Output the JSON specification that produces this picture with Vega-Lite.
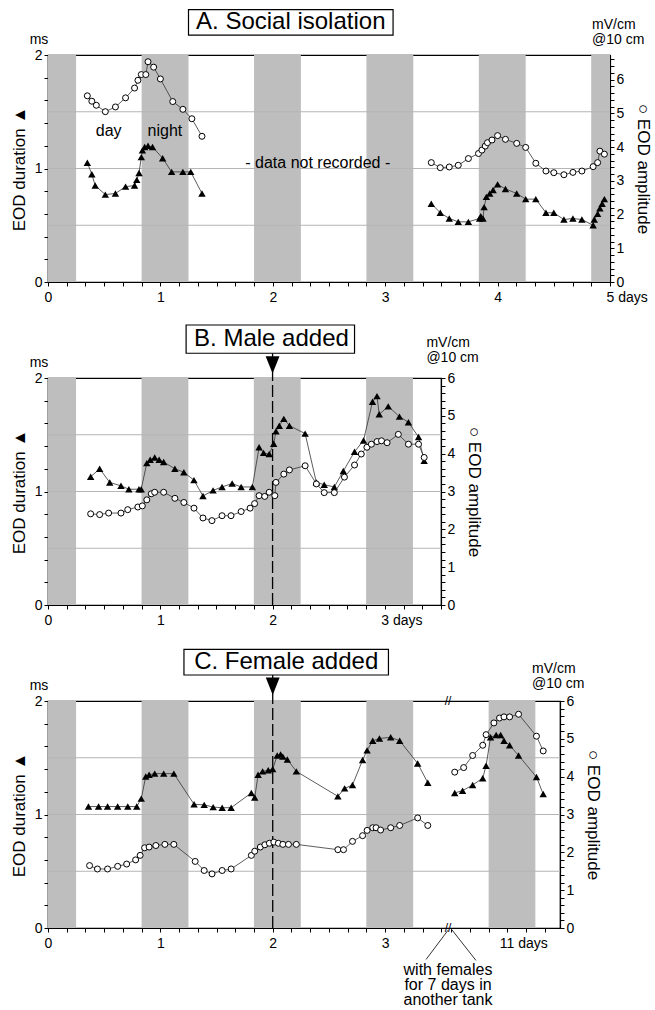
{
  "$schema": "https://vega.github.io/schema/vega-lite/v6.json",
  "padding": {"left": 9, "top": 8, "right": 0, "bottom": 0},
  "autosize": {"type": "pad"},
  "spacing": 96,
  "bounds": "flush",
  "config": {
    "font": "Liberation Sans",
    "view": {"stroke": "black", "strokeWidth": 1.2},
    "axis": {"labelFont": "Liberation Sans", "labelFontSize": 14, "labelColor": "black", "domainColor": "black", "domainWidth": 1.2, "tickColor": "black", "tickSize": 4, "tickWidth": 1, "grid": false, "labelPadding": 2, "titleFont": "Liberation Sans", "titleFontSize": 17, "titleFontWeight": "normal", "titleColor": "black", "labelFlush": false, "labelOverlap": false, "tickCount": 200},
    "axisX": {"labelPadding": 4},
    "text": {"font": "Liberation Sans", "color": "black"}
  },
  "datasets": {
    "one": [{}],
    "nightA": [{"start":0,"end":0.25},{"start":0.833,"end":1.25},{"start":1.833,"end":2.25},{"start":2.833,"end":3.25},{"start":3.833,"end":4.25},{"start":4.833,"end":5}],
    "nightB": [{"start":0,"end":0.25},{"start":0.833,"end":1.25},{"start":1.833,"end":2.25},{"start":2.833,"end":3.25}],
    "nightC": [{"start":0,"end":0.25},{"start":0.833,"end":1.25},{"start":1.833,"end":2.25},{"start":2.833,"end":3.25},{"start":10.833,"end":11.25}],
    "grid": [{"ms":0.5},{"ms":1},{"ms":1.5}],
    "durA": [
      {"seg":1,"day":0.35,"ms":1.05},{"seg":1,"day":0.39,"ms":0.95},{"seg":1,"day":0.42,"ms":0.85},{"seg":1,"day":0.51,"ms":0.77},{"seg":1,"day":0.60,"ms":0.78},{"seg":1,"day":0.69,"ms":0.84},{"seg":1,"day":0.77,"ms":0.85},{"seg":1,"day":0.79,"ms":0.90},{"seg":1,"day":0.81,"ms":0.96},{"seg":1,"day":0.83,"ms":1.10},{"seg":1,"day":0.84,"ms":1.16},{"seg":1,"day":0.86,"ms":1.19},{"seg":1,"day":0.89,"ms":1.20},{"seg":1,"day":0.93,"ms":1.19},{"seg":1,"day":1.02,"ms":1.09},{"seg":1,"day":1.10,"ms":0.97},{"seg":1,"day":1.20,"ms":0.97},{"seg":1,"day":1.27,"ms":0.97},{"seg":1,"day":1.37,"ms":0.78},
      {"seg":2,"day":3.41,"ms":0.69},{"seg":2,"day":3.49,"ms":0.61},{"seg":2,"day":3.57,"ms":0.56},{"seg":2,"day":3.65,"ms":0.53},{"seg":2,"day":3.74,"ms":0.53},{"seg":2,"day":3.84,"ms":0.56},{"seg":2,"day":3.85,"ms":0.58},{"seg":2,"day":3.87,"ms":0.56},{"seg":2,"day":3.88,"ms":0.66},{"seg":2,"day":3.90,"ms":0.75},{"seg":2,"day":3.93,"ms":0.78},{"seg":2,"day":3.96,"ms":0.81},{"seg":2,"day":4.00,"ms":0.86},{"seg":2,"day":4.07,"ms":0.82},{"seg":2,"day":4.17,"ms":0.78},{"seg":2,"day":4.25,"ms":0.73},{"seg":2,"day":4.34,"ms":0.73},{"seg":2,"day":4.43,"ms":0.61},{"seg":2,"day":4.50,"ms":0.61},{"seg":2,"day":4.59,"ms":0.55},{"seg":2,"day":4.67,"ms":0.56},{"seg":2,"day":4.75,"ms":0.55},{"seg":2,"day":4.85,"ms":0.50},{"seg":2,"day":4.86,"ms":0.55},{"seg":2,"day":4.89,"ms":0.60},{"seg":2,"day":4.91,"ms":0.65},{"seg":2,"day":4.93,"ms":0.69},{"seg":2,"day":4.95,"ms":0.73}
    ],
    "ampA": [
      {"seg":1,"day":0.35,"mV":5.52},{"seg":1,"day":0.39,"mV":5.36},{"seg":1,"day":0.43,"mV":5.24},{"seg":1,"day":0.51,"mV":5.05},{"seg":1,"day":0.60,"mV":5.19},{"seg":1,"day":0.69,"mV":5.46},{"seg":1,"day":0.77,"mV":5.75},{"seg":1,"day":0.80,"mV":5.98},{"seg":1,"day":0.83,"mV":6.15},{"seg":1,"day":0.87,"mV":6.15},{"seg":1,"day":0.89,"mV":6.53},{"seg":1,"day":0.94,"mV":6.37},{"seg":1,"day":1.00,"mV":6.02},{"seg":1,"day":1.11,"mV":5.35},{"seg":1,"day":1.20,"mV":5.12},{"seg":1,"day":1.28,"mV":4.84},{"seg":1,"day":1.37,"mV":4.32},
      {"seg":2,"day":3.41,"mV":3.54},{"seg":2,"day":3.49,"mV":3.39},{"seg":2,"day":3.57,"mV":3.41},{"seg":2,"day":3.65,"mV":3.46},{"seg":2,"day":3.74,"mV":3.66},{"seg":2,"day":3.83,"mV":3.81},{"seg":2,"day":3.86,"mV":3.91},{"seg":2,"day":3.89,"mV":4.03},{"seg":2,"day":3.91,"mV":4.13},{"seg":2,"day":3.95,"mV":4.21},{"seg":2,"day":4.00,"mV":4.34},{"seg":2,"day":4.07,"mV":4.23},{"seg":2,"day":4.17,"mV":4.11},{"seg":2,"day":4.25,"mV":3.99},{"seg":2,"day":4.34,"mV":3.52},{"seg":2,"day":4.43,"mV":3.29},{"seg":2,"day":4.50,"mV":3.24},{"seg":2,"day":4.59,"mV":3.18},{"seg":2,"day":4.67,"mV":3.25},{"seg":2,"day":4.75,"mV":3.29},{"seg":2,"day":4.85,"mV":3.42},{"seg":2,"day":4.89,"mV":3.54},{"seg":2,"day":4.91,"mV":3.88},{"seg":2,"day":4.95,"mV":3.79}
    ],
    "durB": [
      {"day":0.38,"ms":1.13},{"day":0.46,"ms":1.20},{"day":0.55,"ms":1.08},{"day":0.65,"ms":1.05},{"day":0.72,"ms":1.02},{"day":0.81,"ms":1.02},{"day":0.83,"ms":1.02},{"day":0.88,"ms":1.25},{"day":0.91,"ms":1.28},{"day":0.95,"ms":1.30},{"day":0.99,"ms":1.28},{"day":1.03,"ms":1.26},{"day":1.13,"ms":1.20},{"day":1.21,"ms":1.17},{"day":1.30,"ms":1.10},{"day":1.38,"ms":0.96},{"day":1.47,"ms":1.01},{"day":1.55,"ms":1.04},{"day":1.64,"ms":1.07},{"day":1.72,"ms":1.04},{"day":1.82,"ms":1.04},{"day":1.88,"ms":1.39},{"day":1.92,"ms":1.34},{"day":1.97,"ms":1.33},{"day":2.01,"ms":1.42},{"day":2.03,"ms":1.53},{"day":2.06,"ms":1.58},{"day":2.10,"ms":1.64},{"day":2.15,"ms":1.58},{"day":2.29,"ms":1.51},{"day":2.39,"ms":1.08},{"day":2.46,"ms":1.06},{"day":2.55,"ms":1.04},{"day":2.63,"ms":1.18},{"day":2.73,"ms":1.35},{"day":2.81,"ms":1.45},{"day":2.89,"ms":1.79},{"day":2.93,"ms":1.84},{"day":2.95,"ms":1.68},{"day":3.03,"ms":1.75},{"day":3.13,"ms":1.66},{"day":3.21,"ms":1.61},{"day":3.30,"ms":1.48},{"day":3.35,"ms":1.27}
    ],
    "ampB": [
      {"day":0.38,"mV":2.41},{"day":0.46,"mV":2.39},{"day":0.54,"mV":2.43},{"day":0.65,"mV":2.43},{"day":0.71,"mV":2.52},{"day":0.80,"mV":2.59},{"day":0.84,"mV":2.62},{"day":0.88,"mV":2.78},{"day":0.92,"mV":2.94},{"day":0.95,"mV":2.98},{"day":1.03,"mV":2.98},{"day":1.13,"mV":2.82},{"day":1.21,"mV":2.71},{"day":1.30,"mV":2.56},{"day":1.38,"mV":2.30},{"day":1.46,"mV":2.23},{"day":1.55,"mV":2.36},{"day":1.63,"mV":2.36},{"day":1.72,"mV":2.47},{"day":1.80,"mV":2.56},{"day":1.84,"mV":2.68},{"day":1.88,"mV":2.89},{"day":1.93,"mV":2.87},{"day":1.97,"mV":2.98},{"day":2.02,"mV":2.89},{"day":2.03,"mV":3.24},{"day":2.10,"mV":3.46},{"day":2.15,"mV":3.57},{"day":2.29,"mV":3.68},{"day":2.39,"mV":3.20},{"day":2.46,"mV":2.97},{"day":2.55,"mV":2.97},{"day":2.64,"mV":3.38},{"day":2.73,"mV":3.70},{"day":2.79,"mV":3.99},{"day":2.84,"mV":4.17},{"day":2.88,"mV":4.25},{"day":2.93,"mV":4.32},{"day":2.97,"mV":4.34},{"day":3.02,"mV":4.29},{"day":3.12,"mV":4.51},{"day":3.21,"mV":4.25},{"day":3.30,"mV":4.25},{"day":3.35,"mV":3.90}
    ],
    "durC": [
      {"seg":1,"day":0.36,"ms":1.07},{"seg":1,"day":0.45,"ms":1.07},{"seg":1,"day":0.53,"ms":1.07},{"seg":1,"day":0.62,"ms":1.07},{"seg":1,"day":0.71,"ms":1.07},{"seg":1,"day":0.79,"ms":1.07},{"seg":1,"day":0.83,"ms":1.14},{"seg":1,"day":0.87,"ms":1.335},{"seg":1,"day":0.90,"ms":1.35},{"seg":1,"day":0.95,"ms":1.36},{"seg":1,"day":1.03,"ms":1.36},{"seg":1,"day":1.12,"ms":1.36},{"seg":1,"day":1.30,"ms":1.09},{"seg":1,"day":1.39,"ms":1.085},{"seg":1,"day":1.47,"ms":1.065},{"seg":1,"day":1.55,"ms":1.06},{"seg":1,"day":1.63,"ms":1.06},{"seg":1,"day":1.81,"ms":1.19},{"seg":1,"day":1.84,"ms":1.15},{"seg":1,"day":1.87,"ms":1.35},{"seg":1,"day":1.91,"ms":1.38},{"seg":1,"day":1.96,"ms":1.39},{"seg":1,"day":2.00,"ms":1.40},{"seg":1,"day":2.04,"ms":1.52},{"seg":1,"day":2.07,"ms":1.53},{"seg":1,"day":2.09,"ms":1.51},{"seg":1,"day":2.13,"ms":1.485},{"seg":1,"day":2.21,"ms":1.38},{"seg":1,"day":2.58,"ms":1.16},{"seg":1,"day":2.64,"ms":1.23},{"seg":1,"day":2.71,"ms":1.26},{"seg":1,"day":2.80,"ms":1.48},{"seg":1,"day":2.84,"ms":1.565},{"seg":1,"day":2.89,"ms":1.65},{"seg":1,"day":2.95,"ms":1.67},{"seg":1,"day":3.05,"ms":1.68},{"seg":1,"day":3.13,"ms":1.65},{"seg":1,"day":3.29,"ms":1.45},{"seg":1,"day":3.38,"ms":1.28},
      {"seg":2,"day":10.53,"ms":1.19},{"seg":2,"day":10.60,"ms":1.21},{"seg":2,"day":10.69,"ms":1.26},{"seg":2,"day":10.78,"ms":1.32},{"seg":2,"day":10.81,"ms":1.43},{"seg":2,"day":10.85,"ms":1.68},{"seg":2,"day":10.90,"ms":1.70},{"seg":2,"day":10.94,"ms":1.70},{"seg":2,"day":10.97,"ms":1.65},{"seg":2,"day":11.02,"ms":1.61},{"seg":2,"day":11.10,"ms":1.52},{"seg":2,"day":11.26,"ms":1.33},{"seg":2,"day":11.32,"ms":1.18}
    ],
    "ampC": [
      {"seg":1,"day":0.37,"mV":1.65},{"seg":1,"day":0.44,"mV":1.56},{"seg":1,"day":0.53,"mV":1.56},{"seg":1,"day":0.62,"mV":1.63},{"seg":1,"day":0.70,"mV":1.69},{"seg":1,"day":0.78,"mV":1.80},{"seg":1,"day":0.82,"mV":1.92},{"seg":1,"day":0.86,"mV":2.12},{"seg":1,"day":0.90,"mV":2.14},{"seg":1,"day":0.96,"mV":2.18},{"seg":1,"day":1.04,"mV":2.21},{"seg":1,"day":1.12,"mV":2.21},{"seg":1,"day":1.31,"mV":1.76},{"seg":1,"day":1.39,"mV":1.52},{"seg":1,"day":1.46,"mV":1.43},{"seg":1,"day":1.55,"mV":1.52},{"seg":1,"day":1.63,"mV":1.56},{"seg":1,"day":1.81,"mV":1.92},{"seg":1,"day":1.84,"mV":2.03},{"seg":1,"day":1.89,"mV":2.14},{"seg":1,"day":1.93,"mV":2.20},{"seg":1,"day":1.97,"mV":2.24},{"seg":1,"day":2.01,"mV":2.27},{"seg":1,"day":2.05,"mV":2.24},{"seg":1,"day":2.09,"mV":2.21},{"seg":1,"day":2.14,"mV":2.21},{"seg":1,"day":2.21,"mV":2.21},{"seg":1,"day":2.58,"mV":2.07},{"seg":1,"day":2.63,"mV":2.07},{"seg":1,"day":2.71,"mV":2.29},{"seg":1,"day":2.80,"mV":2.44},{"seg":1,"day":2.84,"mV":2.58},{"seg":1,"day":2.89,"mV":2.65},{"seg":1,"day":2.92,"mV":2.65},{"seg":1,"day":2.96,"mV":2.59},{"seg":1,"day":3.05,"mV":2.65},{"seg":1,"day":3.13,"mV":2.71},{"seg":1,"day":3.29,"mV":2.91},{"seg":1,"day":3.38,"mV":2.71},
      {"seg":2,"day":10.53,"mV":4.12},{"seg":2,"day":10.61,"mV":4.24},{"seg":2,"day":10.69,"mV":4.56},{"seg":2,"day":10.78,"mV":4.83},{"seg":2,"day":10.81,"mV":5.11},{"seg":2,"day":10.88,"mV":5.42},{"seg":2,"day":10.93,"mV":5.55},{"seg":2,"day":10.97,"mV":5.58},{"seg":2,"day":11.02,"mV":5.58},{"seg":2,"day":11.10,"mV":5.65},{"seg":2,"day":11.26,"mV":5.07},{"seg":2,"day":11.32,"mV":4.68}
    ]
  },
  "vconcat": [
    {
      "width": 562, "height": 227,
      "resolve": {"scale": {"y": "independent"}},
      "layer": [
        {"layer": [
          {"data": {"name": "nightA"}, "mark": {"type": "rect", "color": "#bebebe"},
           "encoding": {
             "x": {"field": "start", "type": "quantitative", "scale": {"domain": [0, 5], "nice": false},
               "axis": {"title": null, "tickCount": 200, "values": [0,0.1667,0.3333,0.5,0.6667,0.8333,1,1.1667,1.3333,1.5,1.6667,1.8333,2,2.1667,2.3333,2.5,2.6667,2.8333,3,3.1667,3.3333,3.5,3.6667,3.8333,4,4.1667,4.3333,4.5,4.6667,4.8333,5],
                 "labelExpr": "abs(datum.value-round(datum.value))<0.01 ? (datum.value>4.9 ? '5 days' : toString(round(datum.value))) : ''",
                 "labelAlign": {"condition": {"test": "datum.value>4.9", "value": "left"}, "value": "center"},
                 "labelOffset": {"condition": {"test": "datum.value>4.9", "value": -4}, "value": 0}}},
             "x2": {"field": "end"}}},
          {"data": {"name": "grid"}, "mark": {"type": "rule", "color": "#b5b5b5", "strokeWidth": 1},
           "encoding": {"y": {"field": "ms", "type": "quantitative", "scale": {"domain": [0, 2], "nice": false}}}},
          {"data": {"name": "one"}, "mark": {"type": "rect", "fill": "white", "stroke": "black", "strokeWidth": 1.2},
           "encoding": {"x": {"datum": 1.25, "scale": {"domain": [0, 5], "nice": false}}, "x2": {"datum": 3.07}, "y": {"datum": 2.40, "scale": {"domain": [0, 2], "nice": false}}, "y2": {"datum": 2.175}}},
          {"data": {"name": "one"}, "mark": {"type": "text", "text": "A. Social isolation", "fontSize": 24, "baseline": "middle"},
           "encoding": {"x": {"datum": 2.16, "scale": {"domain": [0, 5], "nice": false}}, "y": {"datum": 2.29, "scale": {"domain": [0, 2], "nice": false}}}},
          {"data": {"name": "one"}, "mark": {"type": "text", "text": "ms", "fontSize": 14, "baseline": "alphabetic"},
           "encoding": {"x": {"datum": -0.08, "scale": {"domain": [0, 5], "nice": false}}, "y": {"datum": 2.095, "scale": {"domain": [0, 2], "nice": false}}}},
          {"data": {"name": "one"}, "mark": {"type": "text", "text": ["mV/cm", "@10 cm"], "fontSize": 14, "align": "left", "baseline": "alphabetic", "lineHeight": 15},
           "encoding": {"x": {"datum": 4.84, "scale": {"domain": [0, 5], "nice": false}}, "y": {"datum": 2.23, "scale": {"domain": [0, 2], "nice": false}}}},
          {"data": {"name": "one"}, "mark": {"type": "text", "text": "day", "fontSize": 16, "baseline": "middle"},
           "encoding": {"x": {"datum": 0.54, "scale": {"domain": [0, 5], "nice": false}}, "y": {"datum": 1.33, "scale": {"domain": [0, 2], "nice": false}}}},
          {"data": {"name": "one"}, "mark": {"type": "text", "text": "night", "fontSize": 16, "baseline": "middle"},
           "encoding": {"x": {"datum": 1.04, "scale": {"domain": [0, 5], "nice": false}}, "y": {"datum": 1.33, "scale": {"domain": [0, 2], "nice": false}}}},
          {"data": {"name": "one"}, "mark": {"type": "text", "text": "- data not recorded -", "fontSize": 16, "baseline": "middle"},
           "encoding": {"x": {"datum": 2.40, "scale": {"domain": [0, 5], "nice": false}}, "y": {"datum": 1.045, "scale": {"domain": [0, 2], "nice": false}}}},
          {"data": {"name": "durA"}, "mark": {"type": "line", "color": "#333", "strokeWidth": 0.8},
           "encoding": {"x": {"field": "day", "type": "quantitative", "scale": {"domain": [0, 5], "nice": false}}, "y": {"field": "ms", "type": "quantitative", "scale": {"domain": [0, 2], "nice": false}}, "detail": {"field": "seg"}}},
          {"data": {"name": "durA"}, "mark": {"type": "point", "shape": "triangle-up", "filled": true, "color": "black", "size": 55, "opacity": 1},
           "encoding": {"x": {"field": "day", "type": "quantitative", "scale": {"domain": [0, 5], "nice": false}},
             "y": {"field": "ms", "type": "quantitative", "scale": {"domain": [0, 2], "nice": false},
               "axis": {"orient": "left", "title": "EOD duration ▲", "titlePadding": 6, "tickCount": 200, "values": [0,0.2,0.4,0.6,0.8,1,1.2,1.4,1.6,1.8,2], "labelExpr": "abs(datum.value-round(datum.value))<0.01 ? toString(round(datum.value)) : ''"}}}}
        ]},
        {"layer": [
          {"data": {"name": "ampA"}, "mark": {"type": "line", "color": "#333", "strokeWidth": 0.8},
           "encoding": {"x": {"field": "day", "type": "quantitative", "scale": {"domain": [0, 5], "nice": false}}, "y": {"field": "mV", "type": "quantitative", "scale": {"domain": [0, 6.73], "nice": false}}, "detail": {"field": "seg"}}},
          {"data": {"name": "ampA"}, "mark": {"type": "point", "shape": "circle", "filled": true, "fill": "white", "stroke": "black", "strokeWidth": 1, "size": 36, "opacity": 1},
           "encoding": {"x": {"field": "day", "type": "quantitative", "scale": {"domain": [0, 5], "nice": false}},
             "y": {"field": "mV", "type": "quantitative", "scale": {"domain": [0, 6.73], "nice": false},
               "axis": {"orient": "right", "title": "○ EOD amplitude", "titlePadding": 10, "tickCount": 200, "values": [0,0.2,0.4,0.6,0.8,1,1.2,1.4,1.6,1.8,2,2.2,2.4,2.6,2.8,3,3.2,3.4,3.6,3.8,4,4.2,4.4,4.6,4.8,5,5.2,5.4,5.6,5.8,6,6.2,6.4,6.6], "labelExpr": "abs(datum.value-round(datum.value))<0.01 ? toString(round(datum.value)) : ''"}}}}
        ]}
      ]
    },
    {
      "width": 393, "height": 227,
      "resolve": {"scale": {"y": "independent"}},
      "layer": [
        {"layer": [
          {"data": {"name": "nightB"}, "mark": {"type": "rect", "color": "#bebebe"},
           "encoding": {
             "x": {"field": "start", "type": "quantitative", "scale": {"domain": [0, 3.5], "nice": false},
               "axis": {"title": null, "tickCount": 200, "values": [0,0.1667,0.3333,0.5,0.6667,0.8333,1,1.1667,1.3333,1.5,1.6667,1.8333,2,2.1667,2.3333,2.5,2.6667,2.8333,3,3.1667,3.3333,3.5],
                 "labelExpr": "abs(datum.value-round(datum.value))<0.01 ? (datum.value>2.9 ? '3 days' : toString(round(datum.value))) : ''",
                 "labelAlign": {"condition": {"test": "datum.value>2.9 && datum.value<3.1", "value": "left"}, "value": "center"},
                 "labelOffset": {"condition": {"test": "datum.value>2.9 && datum.value<3.1", "value": -4}, "value": 0}}},
             "x2": {"field": "end"}}},
          {"data": {"name": "grid"}, "mark": {"type": "rule", "color": "#b5b5b5", "strokeWidth": 1},
           "encoding": {"y": {"field": "ms", "type": "quantitative", "scale": {"domain": [0, 2], "nice": false}}}},
          {"data": {"name": "one"}, "mark": {"type": "rule", "color": "black", "strokeWidth": 1.3, "strokeDash": [12, 4]},
           "encoding": {"x": {"datum": 2, "scale": {"domain": [0, 3.5], "nice": false}}, "y": {"datum": 0, "scale": {"domain": [0, 2], "nice": false}}, "y2": {"datum": 2}}},
          {"data": {"name": "one"}, "mark": {"type": "rule", "color": "black", "strokeWidth": 1.3},
           "encoding": {"x": {"datum": 2, "scale": {"domain": [0, 3.5], "nice": false}}, "y": {"datum": 2, "scale": {"domain": [0, 2], "nice": false}}, "y2": {"datum": 2.218}}},
          {"data": {"name": "one"}, "mark": {"type": "point", "shape": "M-0.8,-1L0.8,-1L0,1Z", "filled": true, "color": "black", "size": 300, "opacity": 1},
           "encoding": {"x": {"datum": 2, "scale": {"domain": [0, 3.5], "nice": false}}, "y": {"datum": 2.115, "scale": {"domain": [0, 2], "nice": false}}}},
          {"data": {"name": "one"}, "mark": {"type": "rect", "fill": "white", "stroke": "black", "strokeWidth": 1.2},
           "encoding": {"x": {"datum": 1.23, "scale": {"domain": [0, 3.5], "nice": false}}, "x2": {"datum": 2.73}, "y": {"datum": 2.467, "scale": {"domain": [0, 2], "nice": false}}, "y2": {"datum": 2.218}}},
          {"data": {"name": "one"}, "mark": {"type": "text", "text": "B. Male added", "fontSize": 24, "baseline": "middle"},
           "encoding": {"x": {"datum": 1.99, "scale": {"domain": [0, 3.5], "nice": false}}, "y": {"datum": 2.34, "scale": {"domain": [0, 2], "nice": false}}}},
          {"data": {"name": "one"}, "mark": {"type": "text", "text": "ms", "fontSize": 14, "baseline": "alphabetic"},
           "encoding": {"x": {"datum": -0.08, "scale": {"domain": [0, 3.5], "nice": false}}, "y": {"datum": 2.1, "scale": {"domain": [0, 2], "nice": false}}}},
          {"data": {"name": "one"}, "mark": {"type": "text", "text": ["mV/cm", "@10 cm"], "fontSize": 14, "align": "left", "baseline": "alphabetic", "lineHeight": 15},
           "encoding": {"x": {"datum": 3.37, "scale": {"domain": [0, 3.5], "nice": false}}, "y": {"datum": 2.27, "scale": {"domain": [0, 2], "nice": false}}}},
          {"data": {"name": "durB"}, "mark": {"type": "line", "color": "#333", "strokeWidth": 0.8},
           "encoding": {"x": {"field": "day", "type": "quantitative", "scale": {"domain": [0, 3.5], "nice": false}}, "y": {"field": "ms", "type": "quantitative", "scale": {"domain": [0, 2], "nice": false}}}},
          {"data": {"name": "durB"}, "mark": {"type": "point", "shape": "triangle-up", "filled": true, "color": "black", "size": 55, "opacity": 1},
           "encoding": {"x": {"field": "day", "type": "quantitative", "scale": {"domain": [0, 3.5], "nice": false}},
             "y": {"field": "ms", "type": "quantitative", "scale": {"domain": [0, 2], "nice": false},
               "axis": {"orient": "left", "title": "EOD duration ▲", "titlePadding": 6, "tickCount": 200, "values": [0,0.2,0.4,0.6,0.8,1,1.2,1.4,1.6,1.8,2], "labelExpr": "abs(datum.value-round(datum.value))<0.01 ? toString(round(datum.value)) : ''"}}}}
        ]},
        {"layer": [
          {"data": {"name": "ampB"}, "mark": {"type": "line", "color": "#333", "strokeWidth": 0.8},
           "encoding": {"x": {"field": "day", "type": "quantitative", "scale": {"domain": [0, 3.5], "nice": false}}, "y": {"field": "mV", "type": "quantitative", "scale": {"domain": [0, 6], "nice": false}}}},
          {"data": {"name": "ampB"}, "mark": {"type": "point", "shape": "circle", "filled": true, "fill": "white", "stroke": "black", "strokeWidth": 1, "size": 36, "opacity": 1},
           "encoding": {"x": {"field": "day", "type": "quantitative", "scale": {"domain": [0, 3.5], "nice": false}},
             "y": {"field": "mV", "type": "quantitative", "scale": {"domain": [0, 6], "nice": false},
               "axis": {"orient": "right", "title": "○ EOD amplitude", "titlePadding": 10, "tickCount": 200, "values": [0,0.2,0.4,0.6,0.8,1,1.2,1.4,1.6,1.8,2,2.2,2.4,2.6,2.8,3,3.2,3.4,3.6,3.8,4,4.2,4.4,4.6,4.8,5,5.2,5.4,5.6,5.8,6], "labelExpr": "abs(datum.value-round(datum.value))<0.01 ? toString(round(datum.value)) : ''"}}}}
        ]}
      ]
    },
    {
      "width": 512, "height": 227,
      "resolve": {"scale": {"y": "independent"}},
      "layer": [
        {"layer": [
          {"data": {"name": "nightC"}, "mark": {"type": "rect", "color": "#bebebe"},
           "encoding": {
             "x": {"field": "start", "type": "quantitative", "scale": {"domain": [0, 3.56, 10.47, 11.47], "range": [0, 400, 400, 512], "nice": false},
               "axis": {"title": null, "tickCount": 200, "values": [0,0.1667,0.3333,0.5,0.6667,0.8333,1,1.1667,1.3333,1.5,1.6667,1.8333,2,2.1667,2.3333,2.5,2.6667,2.8333,3,3.1667,3.3333,3.5,10.5,10.6667,10.8333,11,11.1667,11.3333],
                 "labelExpr": "abs(datum.value-round(datum.value))<0.01 ? (datum.value>10.9 ? '11 days' : toString(round(datum.value))) : ''",
                 "labelAlign": {"condition": {"test": "datum.value>10.9 && datum.value<11.1", "value": "left"}, "value": "center"},
                 "labelOffset": {"condition": {"test": "datum.value>10.9 && datum.value<11.1", "value": -8}, "value": 0}}},
             "x2": {"field": "end"}}},
          {"data": {"name": "grid"}, "mark": {"type": "rule", "color": "#b5b5b5", "strokeWidth": 1},
           "encoding": {"y": {"field": "ms", "type": "quantitative", "scale": {"domain": [0, 2], "nice": false}}}},
          {"data": {"name": "one"}, "mark": {"type": "rule", "color": "black", "strokeWidth": 1.3, "strokeDash": [12, 4]},
           "encoding": {"x": {"datum": 2, "scale": {"domain": [0, 3.56, 10.47, 11.47], "range": [0, 400, 400, 512], "nice": false}}, "y": {"datum": 0, "scale": {"domain": [0, 2], "nice": false}}, "y2": {"datum": 2}}},
          {"data": {"name": "one"}, "mark": {"type": "rule", "color": "black", "strokeWidth": 1.3},
           "encoding": {"x": {"datum": 2, "scale": {"domain": [0, 3.56, 10.47, 11.47], "range": [0, 400, 400, 512], "nice": false}}, "y": {"datum": 2, "scale": {"domain": [0, 2], "nice": false}}, "y2": {"datum": 2.23}}},
          {"data": {"name": "one"}, "mark": {"type": "point", "shape": "M-0.8,-1L0.8,-1L0,1Z", "filled": true, "color": "black", "size": 300, "opacity": 1},
           "encoding": {"x": {"datum": 2, "scale": {"domain": [0, 3.56, 10.47, 11.47], "range": [0, 400, 400, 512], "nice": false}}, "y": {"datum": 2.13, "scale": {"domain": [0, 2], "nice": false}}}},
          {"data": {"name": "one"}, "mark": {"type": "rect", "fill": "white", "stroke": "black", "strokeWidth": 1.2},
           "encoding": {"x": {"datum": 1.21, "scale": {"domain": [0, 3.56, 10.47, 11.47], "range": [0, 400, 400, 512], "nice": false}}, "x2": {"datum": 3.03}, "y": {"datum": 2.455, "scale": {"domain": [0, 2], "nice": false}}, "y2": {"datum": 2.229}}},
          {"data": {"name": "one"}, "mark": {"type": "text", "text": "C. Female added", "fontSize": 24, "baseline": "middle"},
           "encoding": {"x": {"datum": 2.12, "scale": {"domain": [0, 3.56, 10.47, 11.47], "range": [0, 400, 400, 512], "nice": false}}, "y": {"datum": 2.34, "scale": {"domain": [0, 2], "nice": false}}}},
          {"data": {"name": "one"}, "mark": {"type": "text", "text": "ms", "fontSize": 14, "baseline": "alphabetic"},
           "encoding": {"x": {"datum": -0.08, "scale": {"domain": [0, 3.56, 10.47, 11.47], "range": [0, 400, 400, 512], "nice": false}}, "y": {"datum": 2.10, "scale": {"domain": [0, 2], "nice": false}}}},
          {"data": {"name": "one"}, "mark": {"type": "text", "text": ["mV/cm", "@10 cm"], "fontSize": 14, "align": "left", "baseline": "alphabetic", "lineHeight": 15},
           "encoding": {"x": {"datum": 11.22, "scale": {"domain": [0, 3.56, 10.47, 11.47], "range": [0, 400, 400, 512], "nice": false}}, "y": {"datum": 2.25, "scale": {"domain": [0, 2], "nice": false}}}},
          {"data": {"name": "one"}, "mark": {"type": "text", "text": "//", "fontSize": 12, "baseline": "middle"},
           "encoding": {"x": {"datum": 3.56, "scale": {"domain": [0, 3.56, 10.47, 11.47], "range": [0, 400, 400, 512], "nice": false}}, "y": {"datum": 2, "scale": {"domain": [0, 2], "nice": false}}}},
          {"data": {"name": "one"}, "mark": {"type": "text", "text": "//", "fontSize": 12, "baseline": "middle"},
           "encoding": {"x": {"datum": 3.56, "scale": {"domain": [0, 3.56, 10.47, 11.47], "range": [0, 400, 400, 512], "nice": false}}, "y": {"datum": 0, "scale": {"domain": [0, 2], "nice": false}}}},
          {"data": {"name": "one"}, "mark": {"type": "rule", "color": "#333", "strokeWidth": 1},
           "encoding": {"x": {"datum": 3.56, "scale": {"domain": [0, 3.56, 10.47, 11.47], "range": [0, 400, 400, 512], "nice": false}}, "x2": {"datum": 3.365}, "y": {"datum": -0.02, "scale": {"domain": [0, 2], "nice": false}}, "y2": {"datum": -0.277}}},
          {"data": {"name": "one"}, "mark": {"type": "rule", "color": "#333", "strokeWidth": 1},
           "encoding": {"x": {"datum": 10.50, "scale": {"domain": [0, 3.56, 10.47, 11.47], "range": [0, 400, 400, 512], "nice": false}}, "x2": {"datum": 10.72}, "y": {"datum": -0.01, "scale": {"domain": [0, 2], "nice": false}}, "y2": {"datum": -0.286}}},
          {"data": {"name": "one"}, "mark": {"type": "text", "text": ["with females", "for 7 days in", "another tank"], "fontSize": 16, "baseline": "top", "lineHeight": 15},
           "encoding": {"x": {"datum": 3.56, "scale": {"domain": [0, 3.56, 10.47, 11.47], "range": [0, 400, 400, 512], "nice": false}}, "y": {"datum": -0.30, "scale": {"domain": [0, 2], "nice": false}}}},
          {"data": {"name": "durC"}, "mark": {"type": "line", "color": "#333", "strokeWidth": 0.8},
           "encoding": {"x": {"field": "day", "type": "quantitative", "scale": {"domain": [0, 3.56, 10.47, 11.47], "range": [0, 400, 400, 512], "nice": false}}, "y": {"field": "ms", "type": "quantitative", "scale": {"domain": [0, 2], "nice": false}}, "detail": {"field": "seg"}}},
          {"data": {"name": "durC"}, "mark": {"type": "point", "shape": "triangle-up", "filled": true, "color": "black", "size": 55, "opacity": 1},
           "encoding": {"x": {"field": "day", "type": "quantitative", "scale": {"domain": [0, 3.56, 10.47, 11.47], "range": [0, 400, 400, 512], "nice": false}},
             "y": {"field": "ms", "type": "quantitative", "scale": {"domain": [0, 2], "nice": false},
               "axis": {"orient": "left", "title": "EOD duration ▲", "titlePadding": 6, "tickCount": 200, "values": [0,0.2,0.4,0.6,0.8,1,1.2,1.4,1.6,1.8,2], "labelExpr": "abs(datum.value-round(datum.value))<0.01 ? toString(round(datum.value)) : ''"}}}}
        ]},
        {"layer": [
          {"data": {"name": "ampC"}, "mark": {"type": "line", "color": "#333", "strokeWidth": 0.8},
           "encoding": {"x": {"field": "day", "type": "quantitative", "scale": {"domain": [0, 3.56, 10.47, 11.47], "range": [0, 400, 400, 512], "nice": false}}, "y": {"field": "mV", "type": "quantitative", "scale": {"domain": [0, 6], "nice": false}}, "detail": {"field": "seg"}}},
          {"data": {"name": "ampC"}, "mark": {"type": "point", "shape": "circle", "filled": true, "fill": "white", "stroke": "black", "strokeWidth": 1, "size": 36, "opacity": 1},
           "encoding": {"x": {"field": "day", "type": "quantitative", "scale": {"domain": [0, 3.56, 10.47, 11.47], "range": [0, 400, 400, 512], "nice": false}},
             "y": {"field": "mV", "type": "quantitative", "scale": {"domain": [0, 6], "nice": false},
               "axis": {"orient": "right", "title": "○ EOD amplitude", "titlePadding": 10, "tickCount": 200, "values": [0,0.2,0.4,0.6,0.8,1,1.2,1.4,1.6,1.8,2,2.2,2.4,2.6,2.8,3,3.2,3.4,3.6,3.8,4,4.2,4.4,4.6,4.8,5,5.2,5.4,5.6,5.8,6], "labelExpr": "abs(datum.value-round(datum.value))<0.01 ? toString(round(datum.value)) : ''"}}}}
        ]}
      ]
    }
  ]
}
